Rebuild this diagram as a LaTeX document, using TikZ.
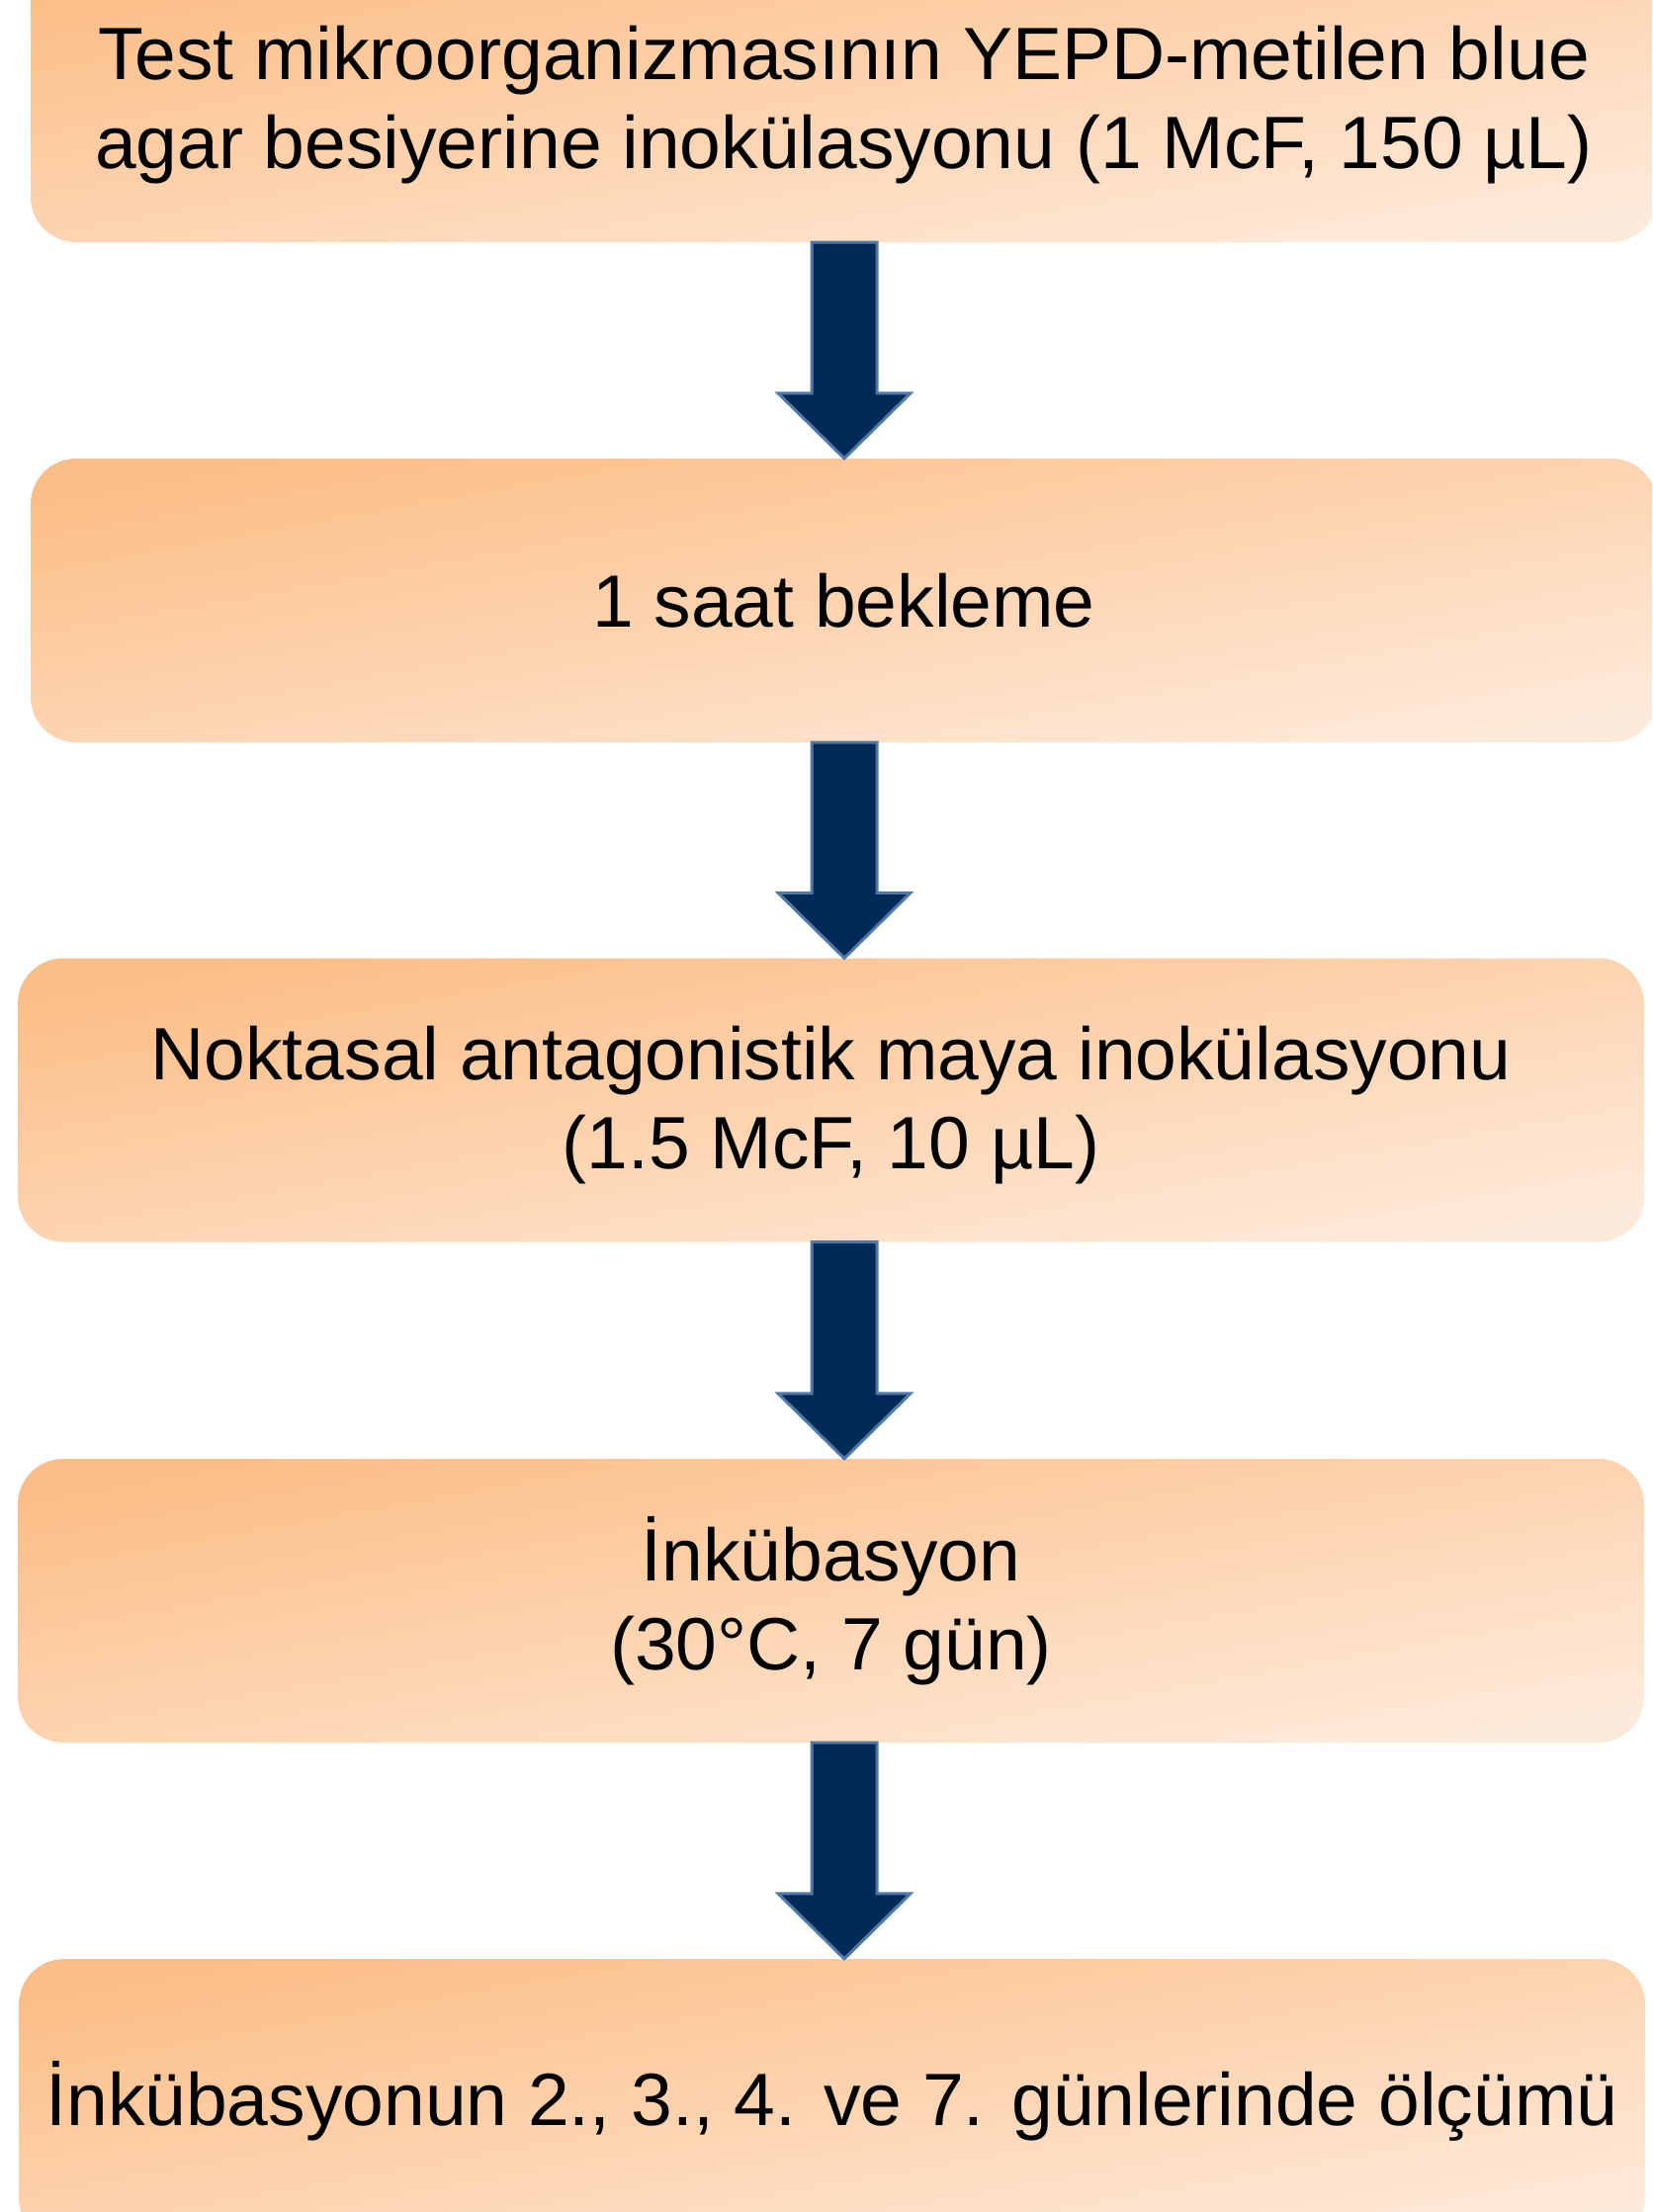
\documentclass[tikz,border=0pt]{standalone}
\usepackage{fontspec}
\setmainfont{Liberation Sans}
\usetikzlibrary{calc, positioning}

\definecolor{boxtop}{RGB}{252,190,135}
\definecolor{boxbottom}{RGB}{254,234,218}
\definecolor{arrowfill}{RGB}{0,41,87}
\definecolor{arrowedge}{RGB}{79,122,168}

\begin{document}
\begin{tikzpicture}[x=1pt,y=-1pt,
  stepbox/.style={rectangle,rounded corners=46pt,minimum width=1645pt,
    minimum height=287pt,inner sep=0pt,align=center,
    top color=boxtop,bottom color=boxbottom,shading angle=10,
    font=\fontsize{75}{90}\selectfont},
  flowarrow/.style={fill=arrowfill,draw=arrowedge,line width=3pt,line join=miter}]
\def\shaft{33}
\def\headw{67}
\def\headl{66}

\useasboundingbox (0,0) rectangle (1671,2238);
\clip (0,0) rectangle (1671,2238);

\coordinate (axis) at (854,0);

\node[stepbox] (b1) at (853.5,101.5)
  {\rule{0pt}{64pt}Test mikroorganizmasının YEPD-metilen blue\\agar besiyerine inokülasyonu (1 McF, 150 µL)};
\node[stepbox] (b2) at (853.5,607.5) {1 saat bekleme};
\node[stepbox] (b3) at (840.5,1113)
  {\rule{0pt}{64pt}Noktasal antagonistik maya inokülasyonu\\(1.5 McF, 10 µL)};
\node[stepbox] (b4) at (840.5,1619.5) {İnkübasyon\\(30°C, 7 gün)};
\node[stepbox] (b5) at (841.5,2125.5)
  {İnkübasyonun 2., 3., 4. ve 7. günlerinde ölçümü};

\foreach \from/\to in {b1/b2,b2/b3,b3/b4,b4/b5} {
  \draw[flowarrow]
    ($(axis |- \from.south)+(-\shaft,0)$) -- ($(axis |- \to.north)+(-\shaft,-\headl)$)
    -- ($(axis |- \to.north)+(-\headw,-\headl)$) -- (axis |- \to.north)
    -- ($(axis |- \to.north)+(\headw,-\headl)$) -- ($(axis |- \to.north)+(\shaft,-\headl)$)
    -- ($(axis |- \from.south)+(\shaft,0)$) -- cycle;
}
\end{tikzpicture}
\end{document}
